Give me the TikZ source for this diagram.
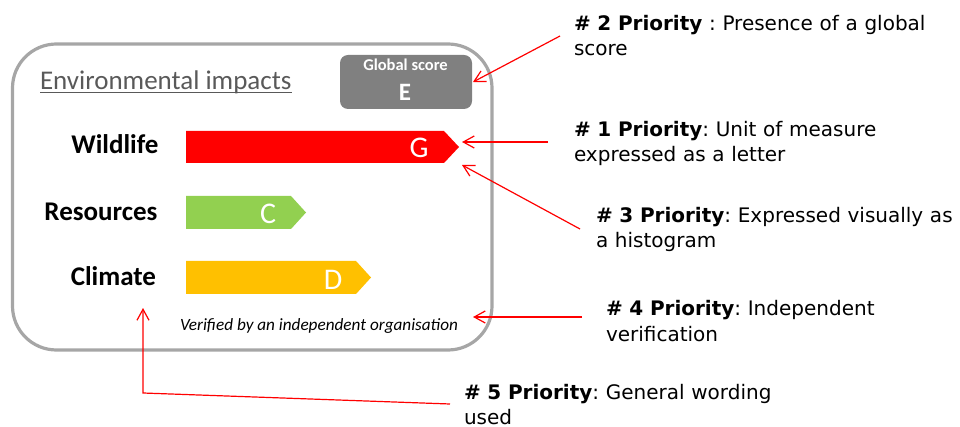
\documentclass[tikz,border=0pt]{standalone}
\usepackage{fontspec}
\setmainfont{Carlito}
\newfontfamily\verd{DejaVu Sans}
\usetikzlibrary{arrows.meta}
\definecolor{framegray}{HTML}{A6A6A6}
\definecolor{scoregray}{HTML}{808080}
\definecolor{titlegray}{HTML}{595959}
\definecolor{barred}{HTML}{FF0000}
\definecolor{bargreen}{HTML}{92D050}
\definecolor{barorange}{HTML}{FFC000}
\definecolor{callred}{HTML}{FF0000}
\frenchspacing
\begin{document}
\begin{tikzpicture}[x=1pt,y=-1pt,
  every node/.style={inner sep=0pt, outer sep=0pt},
  frame/.style={draw=framegray, line width=3.2pt, rounded corners=44pt,
    minimum width=479.5pt, minimum height=306pt},
  scorebox/.style={fill=scoregray, rounded corners=8pt,
    minimum width=132pt, minimum height=54pt},
  rowlabel/.style={anchor=base east, font=\fontsize{27}{32}\selectfont\bfseries},
  grade/.style={anchor=base, text=white, font=\fontsize{30}{34}\selectfont},
  priority/.style={anchor=base west, align=left, text width=380pt,
    font=\verd\fontsize{20}{25}\selectfont},
  callout/.style={draw=callred, line width=1.2pt,
    -{Straight Barb[length=11pt,width=12pt,line width=1.2pt]}}
]
\useasboundingbox (0,0) rectangle (960,427);

% outer frame and heading
\node[frame] (frame) at (252.25,197) {};
\node[anchor=base west, text=titlegray, font=\fontsize{27}{32}\selectfont]
  (title) at (40,90) {Environmental impacts};
\draw[titlegray, line width=1.3pt]
  ([yshift=-2.8pt]title.base west) -- ([yshift=-2.8pt]title.base east);

% global score tag
\node[scorebox] (gs) at (406,82) {};
\node[anchor=base, text=white, font=\fontsize{16.5}{20}\selectfont\bfseries]
  (gslabel) at (405.5,70.5) {Global score};
\node[anchor=base, text=white, font=\fontsize{25}{30}\selectfont\bfseries]
  (gsgrade) at (405,101) {E};

% rows of the histogram
\node[rowlabel] (wildlife) at (158.5,153.5) {Wildlife};
\node[rowlabel] (resources) at (157.5,220.5) {Resources};
\node[rowlabel] (climate) at (156,286) {Climate};

\fill[barred] (186,131) -- (444,131) -- (459,147) -- (444,163) -- (186,163) -- cycle;
\fill[bargreen] (186,196) -- (291,196) -- (306,212.5) -- (291,229) -- (186,229) -- cycle;
\fill[barorange] (186,261) -- (356,261) -- (371,277.5) -- (356,294) -- (186,294) -- cycle;

\node[grade] (gradeG) at (419,158) {G};
\node[grade] (gradeC) at (268,224) {C};
\node[grade] (gradeD) at (333,290) {D};

\node[anchor=base west, font=\fontsize{17.2}{20}\selectfont\itshape]
  (verified) at (180,330) {Verified by an independent organisation};

% priority notes
\node[priority] (p2) at (574,31)
  {\textbf{\# 2 Priority} : Presence of a global\\score};
\node[priority] (p1) at (574,137)
  {\textbf{\# 1 Priority}: Unit of measure\\expressed as a letter};
\node[priority] (p3) at (596,223)
  {\textbf{\# 3 Priority}: Expressed visually as\\a histogram};
\node[priority] (p4) at (606,316)
  {\textbf{\# 4 Priority}: Independent\\verification};
\node[priority] (p5) at (464,399)
  {\textbf{\# 5 Priority}: General wording\\used};

% callout end points
\coordinate (t2) at (560,36);
\coordinate (t1) at (548,142);
\coordinate (t3) at (580,229);
\coordinate (t4) at (582,317);
\coordinate (t5) at (450,404);
\coordinate (h1) at (462,142);
\coordinate (h3) at (462,165);
\coordinate (h4) at (473,317);
\coordinate (k5) at (143,393);
\coordinate (h5) at (143,308);

\draw[callout] (t2) -- ([xshift=1pt]gs.east);
\draw[callout] (t1) -- (h1);
\draw[callout] (t3) -- (h3);
\draw[callout] (t4) -- (h4);
\draw[callout] (t5) -- (k5) -- (h5);
\end{tikzpicture}
\end{document}
